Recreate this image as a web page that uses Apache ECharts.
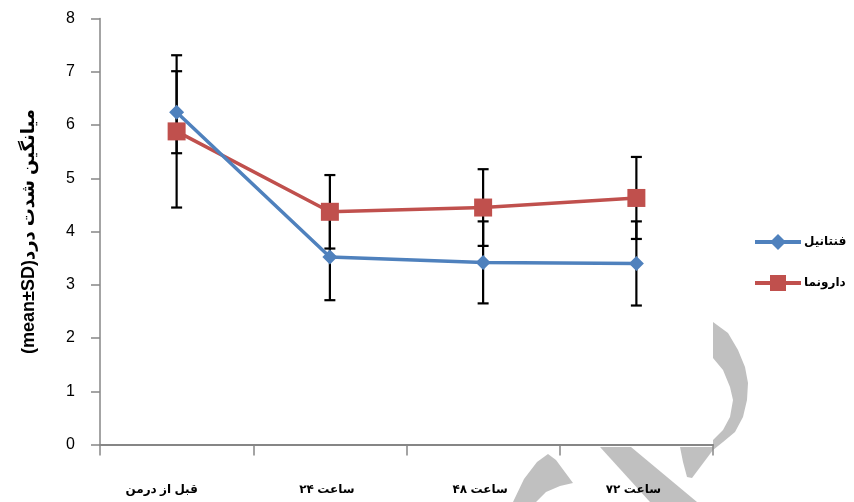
<!DOCTYPE html>
<html>
<head>
<meta charset="utf-8">
<script src="https://cdn.jsdelivr.net/npm/echarts@6/dist/echarts.min.js"></script>
<style>
html,body{margin:0;padding:0;background:#fff;}
#c{width:854px;height:502px;}
</style>
</head>
<body>
<div id="c"></div>
<script>
var categories = ['قبل از درمن', 'ساعت ۲۴', 'ساعت ۴۸', 'ساعت ۷۲'];
var fentanylMean = [6.24, 3.52, 3.42, 3.40];
var fentanylSD = [0.77, 0.81, 0.77, 0.79];
var placeboMean = [5.88, 4.37, 4.45, 4.63];
var placeboSD = [1.43, 0.69, 0.72, 0.77];
var yTicks = [0, 1, 2, 3, 4, 5, 6, 7, 8];
var seriesNames = ['فنتانیل', 'دارونما'];
var yTitle = '(mean±SD)میانگین شدت درد';

var FONT = '"Liberation Sans", "DejaVu Sans", Arial, sans-serif';
var BLUE = '#4F81BD', RED = '#C0504D';

function errData(mean, sd) {
  return mean.map(function (m, i) { return [i, m - sd[i], m + sd[i]]; });
}
function errRender(params, api) {
  var x = api.value(0);
  var lo = api.coord([x, api.value(1)]);
  var hi = api.coord([x, api.value(2)]);
  var cap = 5.5;
  var st = { stroke: '#000', lineWidth: 2.2 };
  return {
    type: 'group',
    children: [
      { type: 'line', shape: { x1: hi[0], y1: hi[1], x2: lo[0], y2: lo[1] }, style: st },
      { type: 'line', shape: { x1: hi[0] - cap, y1: hi[1], x2: hi[0] + cap, y2: hi[1] }, style: st },
      { type: 'line', shape: { x1: lo[0] - cap, y1: lo[1], x2: lo[0] + cap, y2: lo[1] }, style: st }
    ]
  };
}

var chart = echarts.init(document.getElementById('c'), null, { renderer: 'canvas' });
var WM = '#C0C0C0';
chart.setOption({
  backgroundColor: '#fff',
  animation: false,
  graphic: [
    { type: 'polygon', z: -10, silent: true, shape: { points: [[713,322],[728,333],[738,350],[745,367],[748,383],[747,400],[743,417],[735,432],[723,442],[713,450],[692,478],[687,477],[683,462],[680,447],[713,447],[713,440],[723,430],[730,417],[733,400],[730,387],[723,370],[713,358]] }, style: { fill: WM } },
    { type: 'polygon', z: -10, silent: true, shape: { points: [[600,447],[631,447],[697,502],[650,502]] }, style: { fill: WM } },
    { type: 'polygon', z: -10, silent: true, shape: { points: [[548,454],[556,460],[573,483],[560,486],[546,492],[536,502],[513,502],[524,479],[537,462]] }, style: { fill: WM } }
  ],
  grid: { left: 100, right: 141, top: 18.5, bottom: 57.5, containLabel: false },
  legend: {
    orient: 'vertical',
    left: 748,
    top: 229,
    itemWidth: 46,
    itemHeight: 20,
    itemGap: 25,
    data: seriesNames,
    lineStyle: { width: 4 },
    textStyle: { fontFamily: FONT, fontSize: 12, fontWeight: 'bold', color: '#000', padding: [0, 0, 0, -2] }
  },
  xAxis: {
    type: 'category',
    data: categories,
    boundaryGap: true,
    axisLine: { lineStyle: { color: '#868686', width: 2 } },
    axisTick: { show: true, interval: 0, length: 11, lineStyle: { color: '#868686', width: 1.5 } },
    axisLabel: {
      interval: 0, margin: 39, fontFamily: FONT, fontSize: 12, fontWeight: 'bold', color: '#000',
      formatter: function (v, i) { return i === 0 ? '{a|' + v + '}' : '{b|' + v + '}'; },
      rich: {
        a: { fontFamily: FONT, fontSize: 12, fontWeight: 'bold', color: '#000', padding: [0, 30, 0, 0] },
        b: { fontFamily: FONT, fontSize: 12, fontWeight: 'bold', color: '#000', padding: [0, 6, 0, 0] }
      }
    },
    splitLine: { show: false }
  },
  yAxis: {
    type: 'value',
    min: yTicks[0],
    max: yTicks[yTicks.length - 1],
    interval: 1,
    name: yTitle,
    nameLocation: 'middle',
    nameGap: 62,
    nameRotate: 90,
    nameTextStyle: { fontFamily: FONT, fontSize: 18, fontWeight: 'bold', color: '#000' },
    axisLine: { show: true, lineStyle: { color: '#868686', width: 1.5 } },
    axisTick: { show: true, length: 9, lineStyle: { color: '#868686', width: 1.5 } },
    axisLabel: { margin: 25, fontFamily: FONT, fontSize: 16, color: '#000' },
    splitLine: { show: false }
  },
  series: [
    {
      type: 'custom', name: 'err1', renderItem: errRender, data: errData(fentanylMean, fentanylSD),
      encode: { x: 0, y: [1, 2] }, z: 1, silent: true
    },
    {
      type: 'custom', name: 'err2', renderItem: errRender, data: errData(placeboMean, placeboSD),
      encode: { x: 0, y: [1, 2] }, z: 1, silent: true
    },
    {
      name: seriesNames[0], type: 'line', data: fentanylMean, z: 3,
      symbol: 'diamond', symbolSize: 15,
      lineStyle: { color: BLUE, width: 3.5 },
      itemStyle: { color: BLUE }
    },
    {
      name: seriesNames[1], type: 'line', data: placeboMean, z: 2,
      symbol: 'rect', symbolSize: 18,
      lineStyle: { color: RED, width: 3.5 },
      itemStyle: { color: RED }
    }
  ]
});
</script>
</body>
</html>
